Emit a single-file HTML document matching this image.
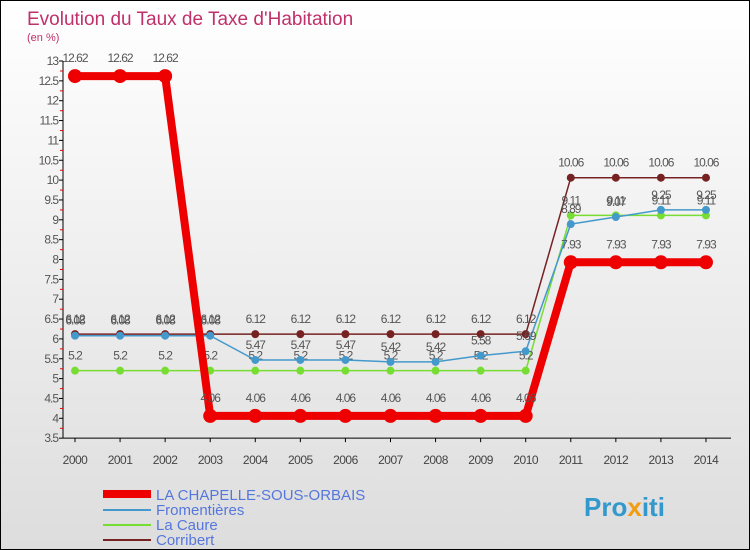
<!DOCTYPE html>
<html><head><meta charset="utf-8"><style>
body{margin:0}
#c{position:relative;width:748px;height:548px;border:1px solid #000;background:linear-gradient(#fff,#ddd);font-family:"Liberation Sans",sans-serif;overflow:hidden}
</style></head><body>
<div id="c">
<svg id="s" width="748" height="548" xmlns="http://www.w3.org/2000/svg">
<text x="26" y="24" font-size="19" fill="#c0306a">Evolution du Taux de Taxe d'Habitation</text>
<text x="26" y="40" font-size="11" fill="#c0306a">(en %)</text>
<g id="ax"></g><g id="ser"></g>
<g>
<line x1="102" y1="493" x2="150" y2="493" stroke="#e00" stroke-width="8"/>
<text x="155" y="499" font-size="15" fill="#5577dd">LA CHAPELLE-SOUS-ORBAIS</text>
<line x1="102" y1="509" x2="150" y2="509" stroke="#4499cc" stroke-width="2"/>
<text x="155" y="514" font-size="15" fill="#5577dd">Fromentières</text>
<line x1="102" y1="524" x2="150" y2="524" stroke="#77dd33" stroke-width="2"/>
<text x="155" y="529" font-size="15" fill="#5577dd">La Caure</text>
<line x1="102" y1="539" x2="150" y2="539" stroke="#772222" stroke-width="2"/>
<text x="155" y="544" font-size="15" fill="#5577dd">Corribert</text>
</g>
<text x="583" y="515" font-size="26" font-weight="bold" fill="#3399cc">Pro<tspan fill="#f39c12">x</tspan>iti</text>
</svg></div>
<script>
const years=[2000,2001,2002,2003,2004,2005,2006,2007,2008,2009,2010,2011,2012,2013,2014];
const chapelle=[12.62,12.62,12.62,4.06,4.06,4.06,4.06,4.06,4.06,4.06,4.06,7.93,7.93,7.93,7.93];
const fromentieres=[6.08,6.08,6.08,6.08,5.47,5.47,5.47,5.42,5.42,5.58,5.69,8.89,9.07,9.25,9.25];
const lacaure=[5.2,5.2,5.2,5.2,5.2,5.2,5.2,5.2,5.2,5.2,5.2,9.11,9.11,9.11,9.11];
const corribert=[6.12,6.12,6.12,6.12,6.12,6.12,6.12,6.12,6.12,6.12,6.12,10.06,10.06,10.06,10.06];
const yTicks=[3.5,4,4.5,5,5.5,6,6.5,7,7.5,8,8.5,9,9.5,10,10.5,11,11.5,12,12.5,13];
const NS="http://www.w3.org/2000/svg";
const X=i=>74+i*45.07, Y=v=>60+(13-v)*39.7;
function mk(t,a,p){const e=document.createElementNS(NS,t);for(const k in a)e.setAttribute(k,a[k]);p.appendChild(e);return e;}
const ax=document.getElementById('ax'),ser=document.getElementById('ser');
const yl=mk('line',{x1:62,y1:Y(13),x2:62,y2:Y(3.5),stroke:'#000'},ax);


yTicks.forEach(v=>{
  mk('line',{x1:58,y1:Y(v),x2:62,y2:Y(v),stroke:'#000'},ax);
  if(v>3.5) mk('line',{x1:59,y1:Y(v)+10,x2:62,y2:Y(v)+10,stroke:'#e00'},ax);
  const t=mk('text',{x:57,y:Y(v)+4,'font-size':12,'text-anchor':'end',fill:'#555','letter-spacing':'-1'},ax);
  t.textContent=String(v);
  
  
});
const xl=mk('line',{x1:62,y1:Y(3.5),x2:730,y2:Y(3.5),stroke:'#000'},ax);


years.forEach((y,i)=>{
  mk('line',{x1:X(i),y1:Y(3.5),x2:X(i),y2:Y(3.5)+4,stroke:'#000'},ax);
  const t=mk('text',{x:X(i),y:Y(3.5)+26,'font-size':12,'text-anchor':'middle',fill:'#444','letter-spacing':'-0.5'},ax);
  t.textContent=y;
  
  
});
function series(d,col,w,r,name){
  const g=mk('g',{},ser);
  
  
  mk('polyline',{points:d.map((v,i)=>X(i)+','+Y(v)).join(' '),fill:'none',stroke:col,'stroke-width':w,'stroke-linejoin':'round'},g);
  d.forEach((v,i)=>{
    const c=mk('circle',{cx:X(i),cy:Y(v),r:r,fill:col},g);
    
    
    const t=mk('text',{x:X(i),y:Y(v)-(r+7),'font-size':12,'text-anchor':'middle',fill:'#555','letter-spacing':'-1'},g);
    t.textContent=String(v);
    
    
  });
}
series(corribert,'#772222',1.5,4,'corribert');
series(lacaure,'#77dd33',1.5,4,'la-caure');
series(fromentieres,'#4499cc',1.5,4,'fromentieres');
series(chapelle,'#ee0000',8,7,'chapelle');
</script>
</body></html>
